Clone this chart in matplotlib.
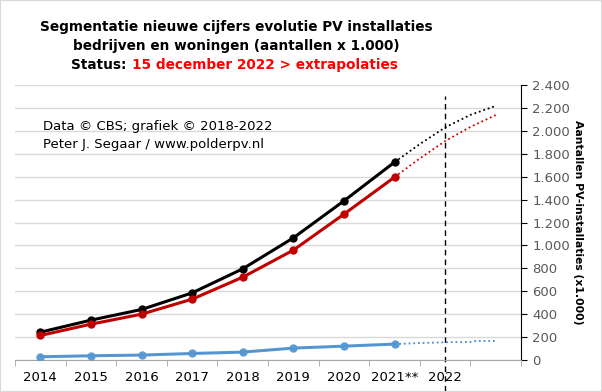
import matplotlib.pyplot as plt
from matplotlib.ticker import FuncFormatter

# category labels (last slot is the 2023 extrapolation end, unlabeled)
years = ['2014', '2015', '2016', '2017', '2018', '2019', '2020', '2021**', '2022', '']

# measured values (x 1.000)
totaal = [243, 348, 441, 586, 796, 1066, 1389, 1727]
woningen = [214, 313, 400, 531, 723, 959, 1273, 1596]
bedrijven = [28, 37, 43, 57, 69, 104, 121, 139]

# extrapolations (category positions and values)
ext_x = [7, 7.5, 8, 8.5, 9]
ext_totaal = [1727, 1885, 2030, 2140, 2218]
ext_woningen = [1596, 1760, 1911, 2035, 2138]
ext_bed_x = [7, 7.5, 8, 8.5, 8.6, 9]
ext_bedrijven = [139, 148, 155, 157, 166, 166]

fig = plt.figure(figsize=(6.02, 3.92), dpi=100)
ax = fig.add_axes([0.025, 0.0816, 0.8405, 0.7014])

x = list(range(len(totaal)))

ax.plot(x, totaal, color='black', lw=2.2, marker='o', ms=5, zorder=4)
ax.plot(x, woningen, color='#c00000', lw=2.2, marker='o', ms=5, zorder=4)
ax.plot(x, bedrijven, color='#5b9bd5', lw=2.2, marker='o', ms=5, zorder=3)
ax.plot(x, bedrijven, color='#3f7fc0', lw=0.8, ls=':', zorder=3)

dots = (0, (1, 1.6))
ax.plot(ext_x, ext_totaal, color='black', lw=1.3, ls=dots, zorder=3)
ax.plot(ext_x, ext_woningen, color='#d00000', lw=1.3, ls=dots, zorder=3)
ax.plot(ext_bed_x, ext_bedrijven, color='#4a8ad0', lw=1.3, ls=dots, zorder=3)

# status line at 2022
ax.plot([8, 8], [-270, 2305], color='black', lw=1, ls=(0, (4, 3)), clip_on=False, zorder=2)

ax.set_xlim(-0.5, 9.5)
ax.set_ylim(0, 2400)
ax.set_yticks(range(0, 2401, 200))
ax.yaxis.set_major_formatter(FuncFormatter(lambda v, p: f'{int(v):,}'.replace(',', '.')))
ax.yaxis.tick_right()
ax.yaxis.set_label_position('right')
ax.tick_params(axis='y', labelsize=9.5, labelcolor='#595959', length=4, color='black', pad=4)
ax.set_ylabel('Aantallen PV-installaties (x1.000)', rotation=-90, labelpad=9,
              fontsize=7.8, fontweight='bold')

ax.set_xticks(range(len(years)))
ax.set_xticklabels(years, fontsize=9.5)
ax.set_xticks([i - 0.5 for i in range(len(years) + 1)], minor=True)
ax.tick_params(axis='x', which='major', length=0, pad=8)
ax.tick_params(axis='x', which='minor', length=4, color='#a6a6a6')

ax.grid(axis='y', color='#d9d9d9', lw=1)
ax.set_axisbelow(True)
for s in ['top', 'left']:
    ax.spines[s].set_visible(False)
ax.spines['bottom'].set_color('#a6a6a6')
ax.spines['right'].set_color('black')

ax.text(0.055, 0.835, 'Data \u00a9 CBS; grafiek \u00a9 2018-2022', transform=ax.transAxes, fontsize=9.5)
ax.text(0.055, 0.77, 'Peter J. Segaar / www.polderpv.nl', transform=ax.transAxes, fontsize=9.5)

tsize = 9.8
fig.text(236 / 602, 1 - 31 / 392, 'Segmentatie nieuwe cijfers evolutie PV installaties',
         ha='center', va='baseline', fontsize=tsize, fontweight='bold')
fig.text(236 / 602, 1 - 50 / 392, 'bedrijven en woningen (aantallen x 1.000)',
         ha='center', va='baseline', fontsize=tsize, fontweight='bold')
fig.text(126 / 602, 1 - 69 / 392, 'Status:', ha='right', va='baseline', fontsize=tsize, fontweight='bold')
fig.text(132 / 602, 1 - 69 / 392, '15 december 2022 > extrapolaties', ha='left', va='baseline',
         fontsize=tsize, fontweight='bold', color='#ff0000')

fig.patches.append(plt.Rectangle((0, 0), 1, 1, transform=fig.transFigure, fill=False,
                                 edgecolor='#d9d9d9', lw=1.5))

fig.savefig('out.png', dpi=100)
